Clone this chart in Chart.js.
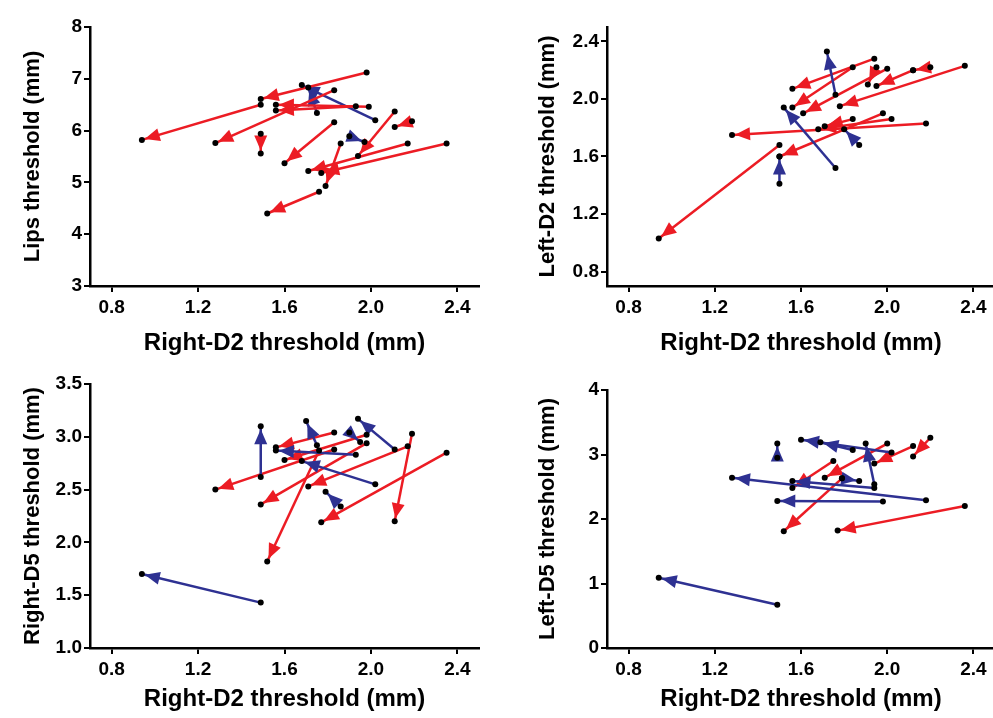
<!DOCTYPE html>
<html>
<head>
<meta charset="utf-8">
<script src="https://cdn.jsdelivr.net/npm/chart.js@4.4.1/dist/chart.umd.min.js"></script>
<style>
  html, body { margin: 0; padding: 0; background: #fff; overflow: hidden; width: 993px; height: 718px; }
  canvas { position: absolute; }
</style>
</head>
<body>
<canvas id="lips" width="500" height="360" style="left:0;top:0"></canvas>
<canvas id="leftD2" width="485" height="360" style="left:520px;top:0"></canvas>
<canvas id="rightD5" width="500" height="361" style="left:0;top:357px"></canvas>
<canvas id="leftD5" width="485" height="361" style="left:520px;top:357px"></canvas>
<script>
// x axis is the same in every panel
const rd2Ticks = [0.8, 1.2, 1.6, 2.0, 2.4]

// Lips vs Right-D2 (pre -> post)
const lipsPreX  = [1.98, 1.49, 1.83, 1.93, 1.99, 2.02, 1.75, 2.11, 2.19, 1.49, 1.83, 1.90, 2.17, 2.35, 1.86, 1.76]
const lipsPreY  = [7.12, 6.50, 6.78, 6.47, 6.46, 6.20, 6.34, 6.37, 6.18, 5.94, 6.16, 5.89, 5.75, 5.75, 5.75, 4.82]
const lipsPostX = [1.49, 0.94, 1.28, 1.56, 1.56, 1.68, 1.71, 1.94, 2.11, 1.49, 1.60, 1.97, 1.71, 1.77, 1.79, 1.52]
const lipsPostY = [6.61, 5.82, 5.76, 6.39, 6.50, 6.88, 6.83, 5.51, 6.07, 5.56, 5.37, 5.78, 5.22, 5.18, 4.93, 4.40]
const lipsColour = ['red', 'red', 'red', 'red', 'red', 'blue', 'blue', 'red', 'red', 'red', 'red', 'blue', 'red', 'red', 'red', 'red']
const lipsTicks = [3, 4, 5, 6, 7, 8]

// Left-D2 vs Right-D2
const ld2PreX  = [1.50, 1.50, 1.76, 1.76, 1.87, 1.94, 1.84, 2.00, 1.95, 2.12, 2.20, 2.36, 2.18, 2.02, 1.98, 1.84]
const ld2PreY  = [1.68, 1.41, 1.52, 2.03, 1.68, 2.28, 2.22, 2.21, 2.22, 2.20, 2.22, 2.23, 1.83, 1.86, 1.90, 1.86]
const ld2PostX = [0.94, 1.50, 1.52, 1.72, 1.80, 1.56, 1.56, 1.61, 1.91, 1.95, 2.12, 1.78, 1.28, 1.68, 1.50, 1.71]
const ld2PostY = [1.03, 1.60, 1.94, 2.33, 1.79, 2.07, 1.94, 1.90, 2.10, 2.09, 2.20, 1.95, 1.75, 1.79, 1.60, 1.81]
const ld2Colour = ['red', 'blue', 'blue', 'blue', 'blue', 'red', 'red', 'red', 'red', 'red', 'red', 'red', 'red', 'red', 'red', 'red']
const ld2Ticks = [0.8, 1.2, 1.6, 2.0, 2.4]

// Right-D5 vs Right-D2
const rd5PreX  = [1.49, 1.49, 1.75, 2.11, 2.02, 1.86, 1.93, 1.90, 1.83, 1.98, 2.17, 2.35, 2.19, 1.76, 1.98, 1.83]
const rd5PreY  = [1.43, 2.62, 2.92, 2.88, 2.55, 2.34, 2.83, 3.04, 2.88, 2.94, 2.91, 2.85, 3.03, 2.87, 3.02, 3.04]
const rd5PostX = [0.94, 1.49, 1.70, 1.94, 1.68, 1.79, 1.56, 1.95, 1.28, 1.49, 1.71, 1.77, 2.11, 1.52, 1.60, 1.56]
const rd5PostY = [1.70, 3.10, 3.15, 3.17, 2.77, 2.48, 2.87, 2.95, 2.50, 2.36, 2.53, 2.19, 2.20, 1.82, 2.78, 2.90]
const rd5Colour = ['blue', 'blue', 'blue', 'blue', 'blue', 'blue', 'blue', 'blue', 'red', 'red', 'red', 'red', 'red', 'red', 'red', 'red']
const rd5Ticks = [1.0, 1.5, 2.0, 2.5, 3.0, 3.5]

// Left-D5 vs Right-D2
const ld5PreX  = [1.49, 1.49, 2.18, 1.98, 2.02, 1.84, 1.94, 1.94, 1.79, 2.36, 1.79, 2.12, 2.20, 2.00, 1.75]
const ld5PreY  = [0.67, 2.95, 2.29, 2.27, 3.03, 3.07, 2.54, 2.48, 2.63, 2.20, 2.63, 3.13, 3.26, 3.17, 2.90]
const ld5PostX = [0.94, 1.49, 1.28, 1.49, 1.60, 1.69, 1.90, 1.56, 1.87, 1.77, 1.52, 1.94, 2.12, 1.71, 1.56]
const ld5PostY = [1.09, 3.17, 2.64, 2.28, 3.23, 3.19, 3.17, 2.59, 2.59, 1.82, 1.81, 2.86, 2.97, 2.64, 2.48]
const ld5Colour = ['blue', 'blue', 'blue', 'blue', 'blue', 'blue', 'blue', 'blue', 'blue', 'red', 'red', 'red', 'red', 'red', 'red']
const ld5Ticks = [0, 1, 2, 3, 4]

const palette = { red: '#ec1c24', blue: '#2e3192' }
const tickFont = { family: "'Liberation Sans', Arial, sans-serif", weight: 'bold', size: 19 }
const xTitleFont = { family: "'Liberation Sans', Arial, sans-serif", weight: 'bold', size: 24 }
const yTitleFont = { family: "'Liberation Sans', Arial, sans-serif", weight: 'bold', size: 22 }

// draws a filled head at the post end of every arrow dataset
const arrowHeads = {
  id: 'arrowHeads',
  afterDatasetDraw(chart, args) {
    if (args.index === 0) return
    const [a, b] = args.meta.data
    const dx = b.x - a.x, dy = b.y - a.y
    const len = Math.hypot(dx, dy)
    if (!len) return
    const ux = dx / len, uy = dy / len
    const tipX = b.x - ux * 3, tipY = b.y - uy * 3
    const baseX = tipX - ux * 15, baseY = tipY - uy * 15
    const ctx = chart.ctx
    ctx.save()
    ctx.fillStyle = chart.data.datasets[args.index].borderColor
    ctx.beginPath()
    ctx.moveTo(tipX, tipY)
    ctx.lineTo(baseX - uy * 6.5, baseY + ux * 6.5)
    ctx.lineTo(baseX + uy * 6.5, baseY - ux * 6.5)
    ctx.closePath()
    ctx.fill()
    ctx.restore()
  }
}

function axisStyle(ticks, fmt) {
  return {
    afterBuildTicks: s => { s.ticks = ticks.map(v => ({ value: v })) },
    ticks: { font: tickFont, color: '#000', autoSkip: false, maxRotation: 0, callback: fmt },
    grid: { display: true, drawOnChartArea: false, drawTicks: true, tickLength: 6, color: '#000', lineWidth: 2 },
    border: { display: true, color: '#000', width: 2.5 }
  }
}

function panel(id, preX, preY, postX, postY, colour, yMin, yMax, yTicks, yFmt, yTitle, lay) {
  const dots = []
  preX.forEach((x, i) => {
    dots.push({ x: x, y: preY[i] })
    dots.push({ x: postX[i], y: postY[i] })
  })
  const datasets = [{
    data: dots,
    pointRadius: 3,
    pointBackgroundColor: '#000',
    pointBorderWidth: 0,
    showLine: false
  }]
  preX.forEach((x, i) => {
    datasets.push({
      data: [{ x: x, y: preY[i] }, { x: postX[i], y: postY[i] }],
      showLine: true,
      borderColor: palette[colour[i]],
      borderWidth: 2.5,
      pointRadius: 0
    })
  })

  const xAxis = axisStyle(rd2Ticks, v => v.toFixed(1))
  xAxis.type = 'linear'
  xAxis.min = 0.7
  xAxis.max = 2.5
  xAxis.ticks.padding = 4
  xAxis.title = { display: true, text: 'Right-D2 threshold (mm)', font: xTitleFont, color: '#000', padding: 0 }
  xAxis.afterFit = s => { s.height = lay.xHeight }

  const yAxis = axisStyle(yTicks, yFmt)
  yAxis.type = 'linear'
  yAxis.min = yMin
  yAxis.max = yMax
  yAxis.ticks.padding = 2
  yAxis.title = { display: true, text: yTitle, font: yTitleFont, color: '#000', padding: 0 }
  yAxis.afterFit = s => { s.width = lay.yWidth }

  new Chart(document.getElementById(id), {
    type: 'scatter',
    data: { datasets },
    options: {
      responsive: false,
      animation: false,
      devicePixelRatio: 1,
      layout: { padding: lay.pad },
      plugins: { legend: { display: false }, tooltip: { enabled: false } },
      scales: { x: xAxis, y: yAxis }
    },
    plugins: [arrowHeads]
  })
}

const topLeft = { pad: { left: 20, top: 27, right: 21, bottom: 2 }, yWidth: 70, xHeight: 72 }
const topRight = { pad: { left: 15, top: 27, right: 10, bottom: 2 }, yWidth: 72, xHeight: 72 }
const botLeft = { pad: { left: 20, top: 27, right: 21, bottom: 4 }, yWidth: 70, xHeight: 66 }
const botRight = { pad: { left: 15, top: 33, right: 10, bottom: 4 }, yWidth: 72, xHeight: 66 }

panel('lips', lipsPreX, lipsPreY, lipsPostX, lipsPostY, lipsColour, 3, 8, lipsTicks, v => String(v), 'Lips threshold (mm)', topLeft)
panel('leftD2', ld2PreX, ld2PreY, ld2PostX, ld2PostY, ld2Colour, 0.7, 2.5, ld2Ticks, v => v.toFixed(1), 'Left-D2 threshold (mm)', topRight)
panel('rightD5', rd5PreX, rd5PreY, rd5PostX, rd5PostY, rd5Colour, 1.0, 3.5, rd5Ticks, v => v.toFixed(1), 'Right-D5 threshold (mm)', botLeft)
panel('leftD5', ld5PreX, ld5PreY, ld5PostX, ld5PostY, ld5Colour, 0, 4, ld5Ticks, v => String(v), 'Left-D5 threshold (mm)', botRight)
</script>
</body>
</html>
